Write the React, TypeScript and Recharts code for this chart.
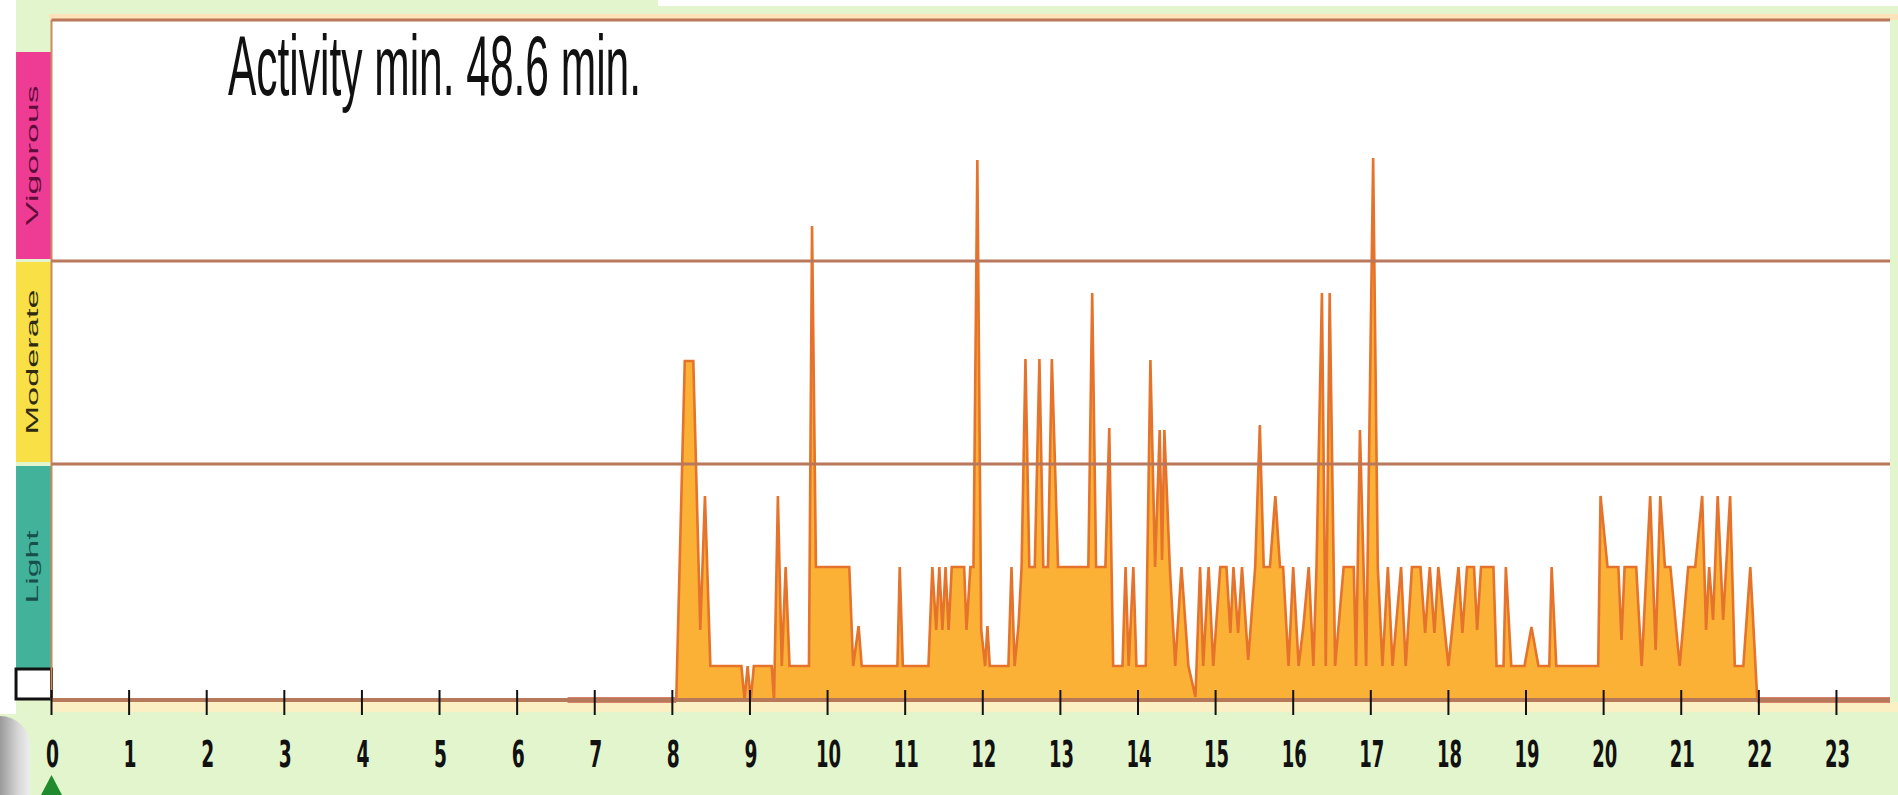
import React from 'react';
import {
  ComposedChart,
  Area,
  Line,
  XAxis,
  YAxis,
  ReferenceLine,
  ReferenceArea,
  CartesianGrid,
} from 'recharts';

// ---- data (hour of day, activity intensity in chart units) ----
const activityHours = [
  6.65, 8.05, 8.16, 8.27, 8.36, 8.42, 8.49, 8.89, 8.93, 8.97,
  9.01, 9.05, 9.28, 9.31, 9.36, 9.41, 9.46, 9.51, 9.76, 9.8, 9.85,
  10.28, 10.33, 10.4, 10.44, 10.9, 10.93, 10.97,
  11.3, 11.35, 11.4, 11.44, 11.48, 11.52, 11.56, 11.6, 11.76, 11.79, 11.84, 11.88, 11.93, 11.98,
  12.03, 12.06, 12.09, 12.33, 12.37, 12.41, 12.46, 12.5, 12.55, 12.6, 12.67, 12.73, 12.78, 12.84, 12.89, 12.97,
  13.36, 13.41, 13.46, 13.58, 13.63, 13.68, 13.8, 13.84, 13.88, 13.94, 13.98,
  14.1, 14.16, 14.22, 14.28, 14.31, 14.34, 14.41, 14.48, 14.56, 14.65, 14.74, 14.8, 14.84, 14.91, 14.97,
  15.06, 15.14, 15.19, 15.23, 15.29, 15.34, 15.42, 15.51, 15.57, 15.62, 15.7, 15.77, 15.83, 15.87, 15.94,
  16.0, 16.07, 16.13, 16.2, 16.26, 16.3, 16.37, 16.42, 16.47, 16.54, 16.65, 16.78, 16.81, 16.86, 16.94,
  17.03, 17.09, 17.15, 17.22, 17.28, 17.39, 17.45, 17.53, 17.64, 17.7, 17.76, 17.82, 17.87,
  18.0, 18.13, 18.18, 18.24, 18.33, 18.37, 18.42, 18.58, 18.62, 18.71, 18.74, 18.81, 18.98,
  19.07, 19.16, 19.3, 19.33, 19.39, 19.93, 19.96,
  20.05, 20.19, 20.23, 20.27, 20.42, 20.49, 20.6, 20.67, 20.73, 20.79, 20.86, 20.98,
  21.09, 21.18, 21.27, 21.32, 21.36, 21.41, 21.47, 21.54, 21.63, 21.69, 21.8, 21.89, 21.98,
];

const activityValues = [
  0, 0, 339, 339, 70, 204, 34, 34, 0, 34,
  0, 34, 34, 0, 204, 34, 133, 34, 34, 474, 133,
  133, 34, 74, 34, 34, 133, 34,
  34, 133, 70, 133, 70, 133, 70, 133, 133, 70, 133, 133, 540, 70,
  34, 74, 34, 34, 133, 34, 74, 133, 341, 133, 133, 341, 133, 133, 341, 133,
  133, 407, 133, 133, 272, 34, 34, 133, 34, 133, 34,
  34, 340, 133, 270, 140, 270, 133, 34, 133, 34, 3, 133, 34, 133, 34,
  133, 133, 67, 133, 67, 133, 40, 133, 275, 133, 133, 204, 133, 133, 34,
  133, 34, 73, 133, 34, 133, 407, 34, 407, 34, 133, 133, 34, 270, 34,
  542, 133, 34, 133, 34, 133, 34, 133, 133, 67, 133, 67, 133,
  34, 133, 67, 133, 133, 70, 133, 133, 34, 34, 133, 34, 34,
  73, 34, 34, 133, 34, 34, 204,
  133, 133, 60, 133, 133, 34, 204, 50, 204, 133, 133, 34,
  133, 133, 204, 70, 133, 80, 204, 80, 204, 34, 34, 133, 0,
];

// device idle (worn but no movement) stretches
const idleMorningHours = [6.65, 8.05];
const idleEveningHours = [21.98, 23.69];

const hourTicks = [0, 1, 2, 3, 4, 5, 6, 7, 8, 9, 10, 11, 12, 13, 14, 15, 16, 17, 18, 19, 20, 21, 22, 23];

// intensity zone limits (chart units)
const LIGHT_MIN = 32;
const MODERATE_MIN = 236;
const VIGOROUS_MIN = 439;
const VIGOROUS_TOP = 648;
const Y_MAX = 680;
const X_MAX = 23.69;
const BAND_LEFT = -0.457;

const titleText = 'Activity min. 48.6 min.';

const activityData = activityHours.map((h, i) => ({ h, v: activityValues[i] }));
const idleMorning = idleMorningHours.map((h) => ({ h, v: 0 }));
const idleEvening = idleEveningHours.map((h) => ({ h, v: 0 }));

const bandLabel = (text: string, color: string, len: number) => (p: any) => {
  const vb = p && p.viewBox ? p.viewBox : { x: 0, y: 0, width: 0, height: 0 };
  const cx = vb.x + vb.width / 2 - 1;
  const cy = vb.y + vb.height / 2;
  return (
    <text
      x={cx}
      y={cy}
      transform={`rotate(-90 ${cx} ${cy})`}
      textAnchor="middle"
      dominantBaseline="central"
      fontSize={17}
      fontFamily="'Liberation Sans', Arial, sans-serif"
      fill={color}
      textLength={len}
      lengthAdjust="spacingAndGlyphs"
    >
      {text}
    </text>
  );
};

const HourTick = (props: any) => {
  const { x, y, payload } = props;
  const v = payload.value;
  const label = String(v);
  return (
    <g>
      <line x1={x} x2={x} y1={y - 10} y2={y + 15} stroke="#111" strokeWidth={2} />
      <text
        x={x + 1}
        y={y + 67}
        textAnchor="middle"
        fontSize={38}
        fontWeight="bold"
        fontFamily="'Liberation Sans Narrow', 'DejaVu Sans Condensed', 'Liberation Sans', sans-serif"
        textLength={label.length === 1 ? 13 : 25}
        lengthAdjust="spacingAndGlyphs"
        fill="#111"
      >
        {label}
      </text>
      {v === 0 && (
        <polygon points={`${x},${y + 75} ${x - 11},${y + 96} ${x + 11},${y + 96}`} fill="#1f8a2e" />
      )}
    </g>
  );
};

export default function App() {
  return (
    <div
      style={{
        position: 'absolute',
        left: 0,
        top: 0,
        width: 1898,
        height: 795,
        overflow: 'hidden',
        background: '#e2f5cc',
      }}
    >
      <div style={{ position: 'absolute', left: 0, top: 0, width: 16, height: 714, background: '#ffffff' }} />
      <div style={{ position: 'absolute', left: 658, top: 0, width: 1240, height: 6, background: '#ffffff' }} />
      <div style={{ position: 'absolute', left: 49, top: 14, width: 1849, height: 6, background: '#fde2ba' }} />
      <div style={{ position: 'absolute', left: 52, top: 702, width: 1846, height: 10, background: '#fbf0c4' }} />
      <div
        style={{
          position: 'absolute',
          left: 0,
          top: 716,
          width: 30,
          height: 79,
          background: 'linear-gradient(90deg, #9a9a9a, #d6d6d6 60%, #eeeeee)',
          borderTopRightRadius: 30,
        }}
      />
      <div style={{ position: 'absolute', left: 0, top: 0 }}>
        <ComposedChart
          width={1898}
          height={795}
          margin={{ top: 20, right: 8, left: 51.5, bottom: 0 }}
        >
          <CartesianGrid horizontal={false} vertical={false} fill="#ffffff" />
          <XAxis
            dataKey="h"
            type="number"
            domain={[0, X_MAX]}
            ticks={hourTicks}
            interval={0}
            tick={HourTick}
            tickLine={false}
            tickSize={0}
            tickMargin={0}
            axisLine={{ stroke: '#b67a5b', strokeWidth: 4 }}
            height={95}
          />
          <YAxis type="number" domain={[0, Y_MAX]} hide width={0} />
          <ReferenceArea
            x1={BAND_LEFT}
            x2={0}
            y1={VIGOROUS_MIN + 2}
            y2={VIGOROUS_TOP}
            ifOverflow="visible"
            fill="#ee3c95"
            fillOpacity={1}
            stroke="none"
            label={bandLabel('Vigorous', '#5e0c3a', 140)}
          />
          <ReferenceArea
            x1={BAND_LEFT}
            x2={0}
            y1={MODERATE_MIN + 2}
            y2={VIGOROUS_MIN - 1}
            ifOverflow="visible"
            fill="#f8e046"
            fillOpacity={1}
            stroke="none"
            label={bandLabel('Moderate', '#2e2a10', 145)}
          />
          <ReferenceArea
            x1={BAND_LEFT}
            x2={0}
            y1={LIGHT_MIN}
            y2={MODERATE_MIN - 2}
            ifOverflow="visible"
            fill="#42b29b"
            fillOpacity={1}
            stroke="none"
            label={bandLabel('Light', '#17504a', 73)}
          />
          <ReferenceArea
            x1={BAND_LEFT}
            x2={0}
            y1={1}
            y2={LIGHT_MIN - 1}
            ifOverflow="visible"
            fill="#ffffff"
            fillOpacity={1}
            stroke="#111"
            strokeWidth={3}
          />
          <Area
            data={activityData}
            dataKey="v"
            type="linear"
            fill="#fbb036"
            fillOpacity={1}
            stroke="#e5732b"
            strokeWidth={2.6}
            dot={false}
            activeDot={false}
            isAnimationActive={false}
          />
          <Line
            data={idleMorning}
            dataKey="v"
            type="linear"
            stroke="#d4806a"
            strokeWidth={6}
            dot={false}
            activeDot={false}
            isAnimationActive={false}
          />
          <Line
            data={idleEvening}
            dataKey="v"
            type="linear"
            stroke="#d4806a"
            strokeWidth={6}
            dot={false}
            activeDot={false}
            isAnimationActive={false}
          />
          <ReferenceLine x={0} stroke="#c98a5e" strokeWidth={2} ifOverflow="visible" />
          <ReferenceLine y={MODERATE_MIN} stroke="#b9775b" strokeWidth={3} />
          <ReferenceLine y={VIGOROUS_MIN} stroke="#b9775b" strokeWidth={3} />
          <ReferenceLine y={Y_MAX} stroke="#b9775b" strokeWidth={3} ifOverflow="visible" />
        </ComposedChart>
      </div>
      <svg
        width={1898}
        height={795}
        style={{ position: 'absolute', left: 0, top: 0, pointerEvents: 'none' }}
      >
        <text
          x={228}
          y={95}
          fontSize={86}
          fontFamily="'Liberation Sans Narrow', 'Liberation Sans', Arial, sans-serif"
          fill="#111"
          textLength={413}
          lengthAdjust="spacingAndGlyphs"
        >
          {titleText}
        </text>
      </svg>
    </div>
  );
}
